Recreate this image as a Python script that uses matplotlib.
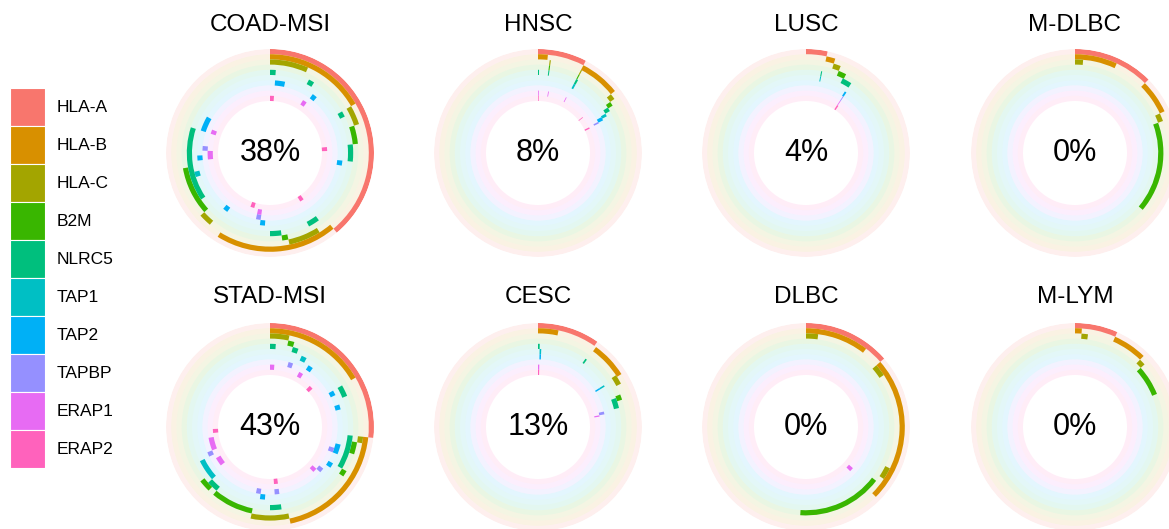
import numpy as np
import matplotlib
matplotlib.use('Agg')
import matplotlib.pyplot as plt

plt.rcParams['font.family'] = ['Liberation Sans', 'DejaVu Sans']

genes = ['HLA-A', 'HLA-B', 'HLA-C', 'B2M', 'NLRC5', 'TAP1', 'TAP2', 'TAPBP', 'ERAP1', 'ERAP2']
gene_colors = ['#F8766D', '#D89000', '#A3A500', '#39B600', '#00BF7D',
               '#00BFC4', '#00B0F6', '#9590FF', '#E76BF3', '#FF62BC']

cohorts = ['COAD-MSI', 'HNSC', 'LUSC', 'M-DLBC', 'STAD-MSI', 'CESC', 'DLBC', 'M-LYM']
pct_labels = ['38%', '8%', '4%', '0%', '43%', '13%', '0%', '0%']
n_samples = [90, 500, 480, 72, 90, 300, 96, 90]

# altered samples per gene as runs (first, last exclusive), genes in the order above
coad_msi = [
    [(0, 35)],
    [(0, 15), (35, 53)],
    [(0, 6), (15, 18), (37, 42), (55, 57)],
    [(18, 21), (42, 43), (57, 65)],
    [(0, 1), (7, 8), (15, 16), (21, 24), (36, 38), (43, 45), (59, 72)],
    [(63, 64)],
    [(1, 3), (9, 10), (24, 25), (46, 47), (54, 55), (66, 67), (72, 75)],
    [(47, 48), (68, 69)],
    [(8, 9), (47, 48), (66, 68), (72, 73)],
    [(0, 1), (21, 22), (36, 37), (49, 50)],
]
hnsc = [
    [(0, 38)],
    [(0, 8), (38, 71)],
    [(10, 11), (38, 39), (71, 76)],
    [(10, 11), (38, 39), (76, 80)],
    [(0, 1), (10, 11), (38, 40), (79, 83)],
    [(38, 40), (83, 86)],
    [(84, 88)],
    [(87, 89)],
    [(0, 1), (13, 14), (37, 38)],
    [(0, 1), (71, 72), (88, 90)],
]
lusc = [
    [(0, 16)],
    [(16, 23)],
    [(23, 29)],
    [(29, 36)],
    [(14, 15), (35, 44)],
    [(14, 15)],
    [(43, 45)],
    [(44, 45)],
    [(44, 45)],
    [(44, 46)],
]
m_dlbc = [
    [(0, 9)],
    [(0, 5), (9, 13)],
    [(0, 1), (13, 14)],
    [(14, 26)],
    [], [], [], [], [], [],
]
stad_msi = [
    [(0, 24)],
    [(0, 15), (24, 42)],
    [(0, 3), (24, 25), (42, 48)],
    [(3, 4), (25, 27), (30, 31), (48, 55), (56, 58)],
    [(0, 1), (4, 5), (15, 17), (24, 30), (43, 45), (55, 57)],
    [(6, 7), (57, 61)],
    [(8, 9), (15, 16), (18, 19), (26, 28), (30, 31), (46, 47)],
    [(4, 5), (27, 28), (32, 33), (43, 44), (47, 48), (61, 62)],
    [(0, 1), (7, 8), (33, 34), (58, 60), (62, 65)],
    [(11, 12), (43, 44), (66, 67)],
]
cesc = [
    [(0, 29)],
    [(0, 10), (30, 48)],
    [(47, 52)],
    [(57, 60)],
    [(0, 1), (29, 30), (58, 64)],
    [(1, 2), (48, 49)],
    [(1, 2), (48, 49)],
    [(64, 66)],
    [(0, 1), (66, 67)],
    [(0, 1)],
]
dlbc = [
    [(0, 13)],
    [(0, 10), (13, 36)],
    [(0, 2), (13, 15), (31, 33)],
    [(34, 49)],
    [], [], [], [],
    [(35, 36)],
    [],
]
m_lym = [
    [(0, 6)],
    [(0, 1), (6, 11)],
    [(1, 2), (11, 12)],
    [(12, 17)],
    [], [], [], [], [], [],
]
cohort_hits = [coad_msi, hnsc, lusc, m_dlbc, stad_msi, cesc, dlbc, m_lym]

W, H = 1169, 529
fig = plt.figure(figsize=(W / 100, H / 100), dpi=100)

col_x = [270, 538, 806, 1075]
row_y = [153, 427]
title_y = [25, 297]
R = 104

for i, name in enumerate(cohorts):
    row, col = divmod(i, 4)
    cx, cy = col_x[col], row_y[row]
    ax = fig.add_axes([(cx - R) / W, 1 - (cy + R) / H, 2 * R / W, 2 * R / H],
                      projection='polar')
    ax.set_theta_zero_location('N')
    ax.set_theta_direction(-1)
    ax.set_ylim(0, 20)
    ax.axis('off')

    step = 2 * np.pi / n_samples[i]
    for g, (runs, color) in enumerate(zip(cohort_hits[i], gene_colors)):
        base = 19 - g
        # faint track background
        ax.bar(0, 1, width=2 * np.pi, bottom=base, color=color, alpha=0.11,
               align='edge', linewidth=0)
        for a, b in runs:
            ax.bar(a * step, 1, width=(b - a) * step, bottom=base, color=color,
                   align='edge', linewidth=0)

    ax.text(0, 0, pct_labels[i], ha='center', va='center', fontsize=22)
    fig.text(cx / W, 1 - title_y[row] / H, name, ha='center', va='center',
             fontsize=17.5)

# gene colour key
ax_leg = fig.add_axes([10 / W, 1 - 468 / H, 35 / W, 380 / H])
ax_leg.barh(range(len(genes)), 1, height=1, left=0, color=gene_colors,
            edgecolor='white', linewidth=0.8)
ax_leg.set_xlim(0, 1)
ax_leg.set_ylim(len(genes) - 0.5, -0.5)
ax_leg.axis('off')
for k, gene in enumerate(genes):
    ax_leg.text(1.34, k, gene, ha='left', va='center', fontsize=12.5, clip_on=False)

fig.savefig('out.png', dpi=100)
